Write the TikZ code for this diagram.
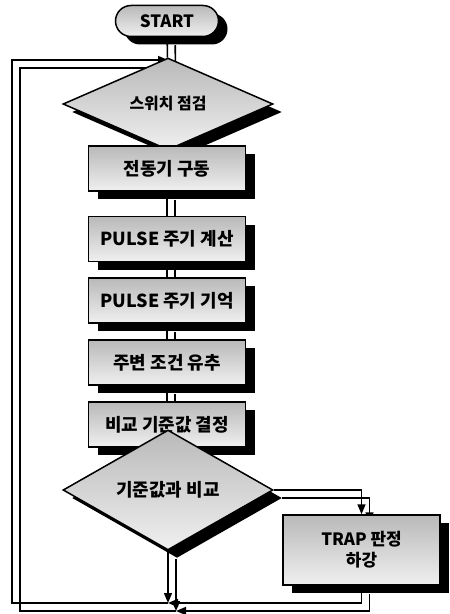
\documentclass[tikz,border=0pt]{standalone}
\usepackage{fontspec}
\setmainfont{Noto Sans CJK KR}
\usetikzlibrary{shapes.geometric,shapes.misc,arrows.meta,shadows}
\pgfdeclarelayer{background}
\pgfsetlayers{background,main}
\begin{document}
\begin{tikzpicture}[x=1bp,y=-1bp,
  shd/.style={drop shadow={shadow xshift=9bp,shadow yshift=-8bp,fill=black,opacity=1}},
  fillgr/.style={top color=gray!55,bottom color=gray!12},
  txt/.style={font=\fontsize{18}{21}\selectfont\bfseries},
  proc/.style={rectangle,draw=black,line width=1.5bp,fillgr,shd,minimum width=157bp,minimum height=45bp,inner sep=0pt,txt},
  dec/.style={diamond,draw=black,line width=1.5bp,fillgr,shd,minimum width=210bp,minimum height=54bp,inner sep=0pt,txt},
  term/.style={rounded rectangle,draw=black,line width=1.5bp,fillgr,shd,minimum width=103bp,minimum height=31bp,inner sep=0pt,txt},
  ln/.style={line width=1.6bp,draw=black},
  arr/.style={ln,-{Triangle[length=10bp,width=8bp]}}
]
\useasboundingbox (0,0) rectangle (450,614);
\node[term,font=\fontsize{17}{20}\selectfont\bfseries] (start) at (167,21) {START};
\node[dec,font=\fontsize{16}{20}\selectfont\bfseries] (d1) at (168,104) {스위치 점검};
\node[proc] (b1) at (167,168.5) {전동기 구동};
\node[proc] (b2) at (167,239) {PULSE 주기 계산};
\node[proc] (b3) at (167,300.5) {PULSE 주기 기억};
\node[proc] (b4) at (167,362.5) {주변 조건 유추};
\node[proc] (b5) at (167,424.5) {비교 기준값 결정};
\node[dec] (d2) at (168,490) {기준값과 비교};
\node[proc,minimum height=70bp,align=center,font=\fontsize{17}{21}\selectfont\bfseries] (trap) at (361.5,550) {TRAP 판정\\하강};
\coordinate (j) at (168,603);
\coordinate (bl) at (12,603);
\coordinate (tl) at (12,60);
\coordinate (top) at (168,60);
\begin{pgfonlayer}{background}
\foreach \s in {0,1}{
\begin{scope}[transform canvas={shift={(8*\s,8*\s)}}]
\draw[ln] (start) -- (d1);
\draw[ln] (d1) -- (b1);
\draw[ln] (b1) -- (b2);
\draw[ln] (b2) -- (b3);
\draw[ln] (b3) -- (b4);
\draw[ln] (b4) -- (b5);
\draw[ln] (b5) -- (d2);
\draw[arr] (d2.south) -- (j);
\draw[arr] (d2.east) -| (trap.north);
\draw[arr] (trap.south) |- (j);
\draw[arr] (j) -- (bl) -- (tl) -- (top);
\end{scope}
}
\end{pgfonlayer}
\end{tikzpicture}
\end{document}
